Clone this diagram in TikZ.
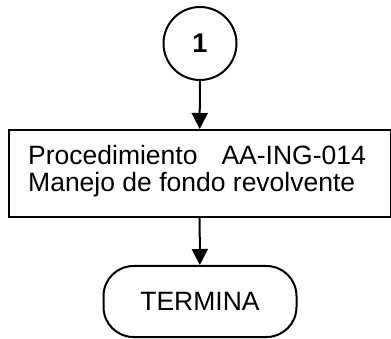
\documentclass[tikz,border=0pt]{standalone}
\usepackage{fontspec}
\setmainfont{Liberation Sans}
\usetikzlibrary{arrows.meta}
\begin{document}
\begin{tikzpicture}[x=1pt,y=-1pt,
  line/.style={line width=2pt},
  conn/.style={line width=2pt,-{Triangle[length=16pt,width=16pt]}},
  txt/.style={font=\fontsize{26.5}{27}\selectfont}]
\useasboundingbox (0,0) rectangle (391,339);
\node[draw,line,circle,minimum size=73pt,inner sep=0pt,font=\fontsize{27}{28}\selectfont\bfseries] (c) at (200,43.5) {1};
\node[draw,line,minimum width=382pt,minimum height=87pt,anchor=north west,inner sep=0pt] (p) at (7.5,129) {};
\node[txt,align=left,anchor=west,inner sep=0pt] (pt) at (28,171) {Procedimiento\hspace{24pt}AA-ING-014\\Manejo de fondo revolvente};
\node[draw,line,rounded corners=30pt,minimum width=193pt,minimum height=71pt,inner sep=0pt,txt] (t) at (200,301.5) {TERMINA};
\draw[conn] (c) -- (p);
\draw[conn] (p) -- (t);
\end{tikzpicture}
\end{document}
